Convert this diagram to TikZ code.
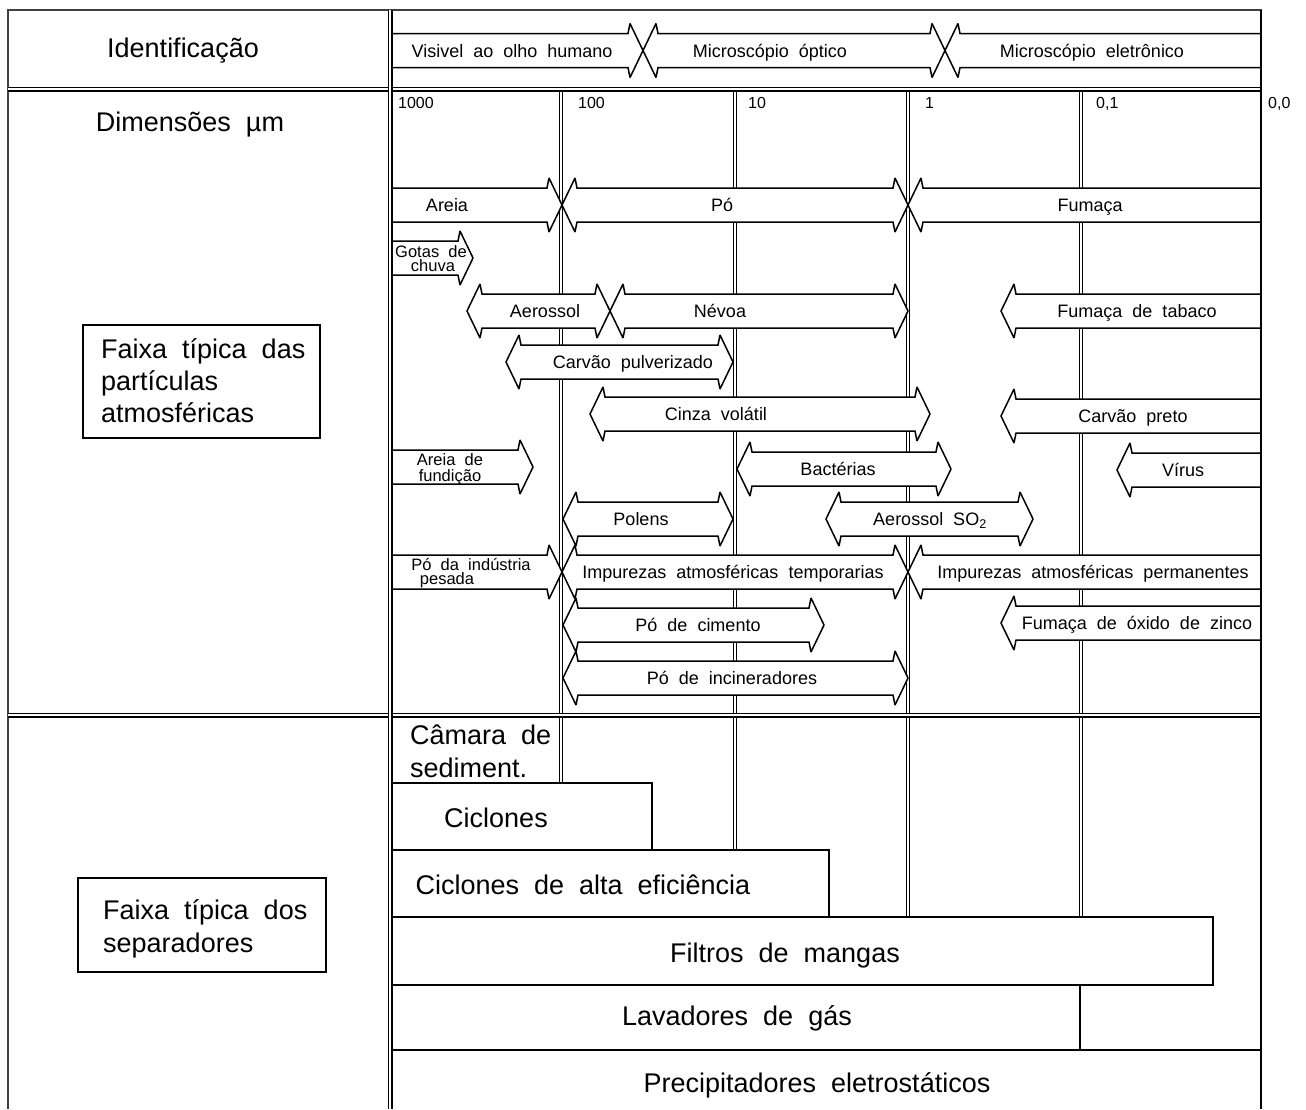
\documentclass[tikz,border=0pt]{standalone}
\usepackage{fontspec}
\setmainfont{Liberation Sans}[WordSpace=2]
\tikzset{
  dbl/.style={double, double distance=1.4pt, line width=1.3pt},
  dblmain/.style={double, double distance=2pt, line width=1.5pt},
  frameline/.style={line width=1.6pt},
  arrowshape/.style={draw, fill=white, line width=1.5pt, line join=miter, miter limit=3},
  sepbox/.style={draw, fill=white, line width=1.4pt},
  lbl/.style={font=\fontsize{18}{20}\selectfont, inner sep=0pt, text height=13pt, text depth=0pt},
  tiny/.style={font=\fontsize{16.5}{14}\selectfont, inner sep=0pt, text height=12pt, text depth=0pt},
  scl/.style={font=\fontsize{16}{18}\selectfont, inner sep=0pt, anchor=west, text height=11.5pt, text depth=0pt},
  big/.style={font=\fontsize{27}{33}\selectfont, inner sep=0pt},
  bigc/.style={big, text height=19.5pt, text depth=0pt},
}
% both tips: name, xl, xr, y, labelx, text
\newcommand{\arrLR}[6]{%
  \draw[arrowshape] (#2,#4) -- ({#2+13},{#4-27}) -- ({#2+15},{#4-17}) -- ({#3-15},{#4-17})
    -- ({#3-13},{#4-27}) -- (#3,#4) -- ({#3-13},{#4+27}) -- ({#3-15},{#4+17})
    -- ({#2+15},{#4+17}) -- ({#2+13},{#4+27}) -- cycle;
  \node[lbl] (#1) at (#5,#4) {#6};}
% flat left, tip right
\newcommand{\arrRt}[6]{%
  \draw[arrowshape] (#2,{#4-17}) -- ({#3-15},{#4-17}) -- ({#3-13},{#4-27}) -- (#3,#4)
    -- ({#3-13},{#4+27}) -- ({#3-15},{#4+17}) -- (#2,{#4+17});
  \node[lbl] (#1) at (#5,#4) {#6};}
% tip left, flat right
\newcommand{\arrLt}[6]{%
  \draw[arrowshape] (#3,{#4-17}) -- ({#2+15},{#4-17}) -- ({#2+13},{#4-27}) -- (#2,#4)
    -- ({#2+13},{#4+27}) -- ({#2+15},{#4+17}) -- (#3,{#4+17});
  \node[lbl] (#1) at (#5,#4) {#6};}
\begin{document}
\begin{tikzpicture}[x=1pt,y=-1pt]
\useasboundingbox[fill=white] (0,0) rectangle (1306,1109);

% vertical grid lines (drawn first, covered by arrows and boxes)
\draw[dbl] (561,91) -- (561,783);
\draw[dbl] (735,91) -- (735,850);
\draw[dbl] (908,91) -- (908,917);
\draw[dbl] (1081,91) -- (1081,917);

% frame
\draw[frameline, black!75] (8,1109) -- (8,10) -- (1261,10) -- (1261,1109);
\draw[dblmain] (8,89) -- (1261,89);
\draw[dblmain] (8,715) -- (1261,715);

% top row arrows
\arrRt{t1}{392}{643}{50.5}{512}{Visivel ao olho humano}
\arrLR{t2}{643}{945}{50.5}{770}{Microscópio óptico}
\arrLt{t3}{945}{1260}{50.5}{1092}{Microscópio eletrônico}

% scale labels
\node[scl] (s1) at (398,103) {1000};
\node[scl] (s2) at (578,103) {100};
\node[scl] (s3) at (748,103) {10};
\node[scl] (s4) at (925,103) {1};
\node[scl] (s5) at (1096,103) {0,1};
\node[scl] (s6) at (1268,103) {0,0};

% particle arrows
\arrRt{a1}{392}{562}{205}{447}{Areia}
\arrLR{a2}{562}{908}{205}{722}{Pó}
\arrLt{a3}{908}{1260}{205}{1090}{Fumaça}
\arrRt{a4}{392}{473}{258}{431}{}
\node[tiny] (a4a) at (431,251) {Gotas de};
\node[tiny] (a4b) at (433,265) {chuva};
\arrLR{a5}{467}{610}{311}{545}{Aerossol}
\arrLR{a6}{610}{908}{311}{720}{Névoa}
\arrLt{a7}{1001}{1260}{311}{1137}{Fumaça de tabaco}
\arrLR{a8}{506}{733}{362}{633}{Carvão pulverizado}
\arrLR{a9}{590}{930}{414}{716}{Cinza volátil}
\arrLt{a10}{1001}{1260}{416}{1133}{Carvão preto}
\arrRt{a11}{392}{533}{467}{450}{}
\node[tiny] (a11a) at (450,459) {Areia de};
\node[tiny] (a11b) at (450,475) {fundição};
\arrLR{a12}{737}{951}{469}{838}{Bactérias}
\arrLt{a13}{1117}{1260}{470}{1183}{Vírus}
\arrLR{a14}{563}{733}{519}{641}{Polens}
\arrLR{a15}{826}{1033}{519}{930}{Aerossol SO\textsubscript{2}}
\arrRt{a16}{392}{562}{572}{471}{}
\node[tiny] (a16a) at (471,564) {Pó da indústria};
\node[tiny] (a16b) at (447,578) {pesada};
\arrLR{a17}{562}{908}{572}{733}{Impurezas atmosféricas temporarias}
\arrLt{a18}{908}{1260}{572}{1093}{Impurezas atmosféricas permanentes}
\arrLR{a19}{563}{824}{625}{698}{Pó de cimento}
\arrLt{a20}{1001}{1260}{623}{1137}{Fumaça de óxido de zinco}
\arrLR{a21}{563}{908}{678}{732}{Pó de incineradores}

% separators
\draw[sepbox] (392,783) rectangle (652,850);
\draw[sepbox] (392,850) rectangle (829,917);
\draw[sepbox] (392,917) rectangle (1213,985);
\draw[sepbox] (392,985) rectangle (1080,1050);
\draw[line width=1.4pt] (1080,1050) -- (1261,1050);
\node[big, align=left, anchor=west] (c1) at (410,751) {Câmara de\\sediment.};
\node[bigc] (c2) at (496,818) {Ciclones};
\node[bigc] (c3) at (583,885) {Ciclones de alta eficiência};
\node[bigc] (c4) at (785,953) {Filtros de mangas};
\node[bigc] (c5) at (737,1016) {Lavadores de gás};
\node[bigc] (c6) at (817,1083) {Precipitadores eletrostáticos};

% main vertical divider and right edge on top
\draw[dblmain] (390,10) -- (390,1109);
\draw[frameline] (1261,10) -- (1261,1109);

% left column
\node[bigc] (l1) at (183,48) {Identificação};
\node[bigc] (l2) at (190,122) {Dimensões µm};
\draw[line width=1.4pt] (83,325) rectangle (320,438);
\node[big, align=left, anchor=west, font=\fontsize{27}{32}\selectfont] (l3) at (101,381) {Faixa típica das\\partículas\\atmosféricas};
\draw[line width=1.4pt] (78,878) rectangle (326,972);
\node[big, align=left, anchor=west] (l4) at (103,929) {Faixa típica dos\\separadores};
\end{tikzpicture}
\end{document}
